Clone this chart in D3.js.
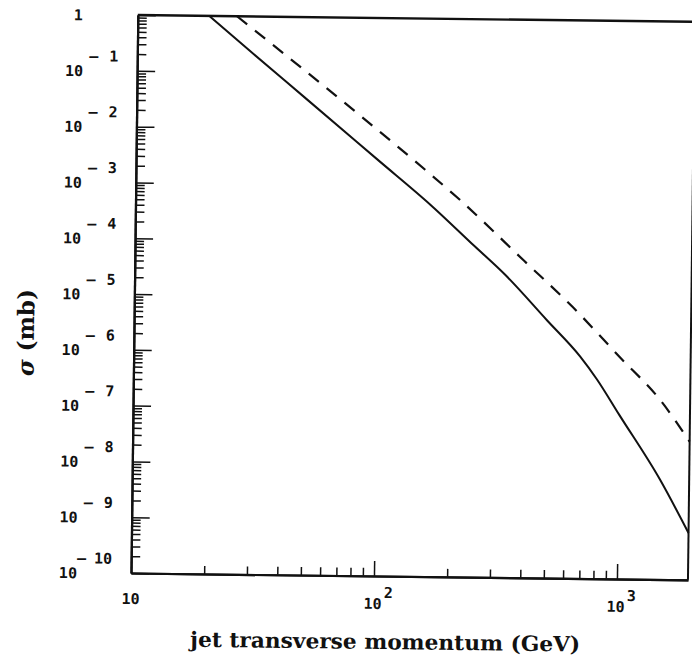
<!DOCTYPE html>
<html>
<head>
<meta charset="utf-8">
<script src="https://cdn.jsdelivr.net/npm/d3@7"></script>
<style>
  body { margin: 0; background: #fff; }
  svg { display: block; }
  .tick-num { font-family: "DejaVu Sans Mono", monospace; font-weight: bold; font-size: 15px; fill: #111; }
  .title { font-family: "DejaVu Serif", serif; font-weight: bold; fill: #111; }
</style>
</head>
<body>
<div id="canvas"></div>
<script>
// jet transverse momentum (GeV) and sigma (mb)
let solidPt = [19.7, 30, 50, 100, 163, 250, 334, 500, 687, 809, 1000, 1486, 1960];
let solidSigma = [1, 0.214, 0.0339, 2.75e-3, 4.68e-4, 8.5e-5, 2.69e-5, 4.17e-6, 9.55e-7, 3.72e-7, 8.9e-8, 6.17e-9, 6.9e-10];
let dashedPt = [25.6, 40, 84.7, 155, 216, 400, 639, 1000, 1473, 1960];
let dashedSigma = [1, 0.22, 0.0166, 1.95e-3, 5.75e-4, 4.79e-5, 7.2e-6, 9.5e-7, 1.66e-7, 3.0e-8];

// tick labels
let xExps = [1, 2, 3];
let yExps = [0, -1, -2, -3, -4, -5, -6, -7, -8, -9, -10];

let xTitle = 'jet transverse momentum (GeV)';

let W = 692, H = 664;
let pLeft = 131, pRight = 688, pTop = 15, pBottom = 573;

let x = d3.scaleLog().domain([10, 1960]).range([pLeft, pRight]);
let y = d3.scaleLog().domain([1e-10, 1]).range([pBottom, pTop]);

let svg = d3.select('#canvas').append('svg')
    .attr('width', W)
    .attr('height', H);

svg.append('rect').attr('width', W).attr('height', H).attr('fill', '#fff');

// the scan sits a little crooked, so turn the whole plot with it
let g = svg.append('g')
    .attr('transform', `rotate(0.7,${pLeft},${pBottom})`);

// minor + major tick values
let xMinor = [], yMinor = [];
[10, 100, 1000].forEach(d => {
    for (let k = 2; k <= 9; k++) if (d * k <= 1960) xMinor.push(d * k);
});
yExps.slice(1).forEach(e => {
    for (let k = 2; k <= 9; k++) yMinor.push(k * Math.pow(10, e));
});
let xMajor = xExps.map(e => Math.pow(10, e)).filter(v => v > 10);
let yMajor = yExps.map(e => Math.pow(10, e));

let styleAxis = sel => {
    sel.selectAll('path').attr('stroke', '#111').attr('stroke-width', 2.2);
    sel.selectAll('line').attr('stroke', '#111').attr('stroke-width', 1.5);
    sel.selectAll('text').remove();
};

// bottom axis, ticks point inward
g.append('g').attr('transform', `translate(0,${pBottom})`)
    .call(d3.axisBottom(x).tickValues(xMinor).tickSize(-8).tickSizeOuter(0))
    .call(styleAxis);
g.append('g').attr('transform', `translate(0,${pBottom})`)
    .call(d3.axisBottom(x).tickValues(xMajor).tickSize(-15).tickSizeOuter(0))
    .call(styleAxis);

// left axis
g.append('g').attr('transform', `translate(${pLeft},0)`)
    .call(d3.axisLeft(y).tickValues(yMinor).tickSize(-9).tickSizeOuter(0))
    .call(styleAxis);
g.append('g').attr('transform', `translate(${pLeft},0)`)
    .call(d3.axisLeft(y).tickValues(yMajor).tickSize(-18).tickSizeOuter(0))
    .call(styleAxis);

// top and right frame
g.append('line')
    .attr('x1', pLeft).attr('x2', pRight).attr('y1', pTop).attr('y2', pTop)
    .attr('stroke', '#111').attr('stroke-width', 2.4);
g.append('line')
    .attr('x1', pRight).attr('x2', pRight).attr('y1', pTop).attr('y2', pBottom)
    .attr('stroke', '#111').attr('stroke-width', 2);

// curves
let line = d3.line()
    .x(d => x(d[0]))
    .y(d => y(d[1]))
    .curve(d3.curveMonotoneX);

g.append('path')
    .datum(d3.zip(solidPt, solidSigma))
    .attr('d', line)
    .attr('fill', 'none')
    .attr('stroke', '#111')
    .attr('stroke-width', 2);

g.append('path')
    .datum(d3.zip(dashedPt, dashedSigma))
    .attr('d', line)
    .attr('fill', 'none')
    .attr('stroke', '#111')
    .attr('stroke-width', 2.2)
    .attr('stroke-dasharray', '13,10');

// y tick labels: 1, 10^-1 ... 10^-10
yExps.forEach(e => {
    let yy = y(Math.pow(10, e));
    if (e === 0) {
        g.append('text').attr('class', 'tick-num')
            .attr('x', 76).attr('y', yy + 6)
            .attr('text-anchor', 'end').text('1');
        return;
    }
    g.append('text').attr('class', 'tick-num')
        .attr('x', 77).attr('y', yy + 6)
        .attr('text-anchor', 'end').text('10');
    g.append('text').attr('class', 'tick-num')
        .attr('x', e === -10 ? 77 : 83).attr('y', yy - 9)
        .text('–');
    g.append('text').attr('class', 'tick-num')
        .attr('x', 112).attr('y', yy - 9)
        .attr('text-anchor', 'end').text(String(-e));
});

// x tick labels: 10, 10^2, 10^3
xExps.forEach(e => {
    let xx = x(Math.pow(10, e));
    if (e === 1) {
        g.append('text').attr('class', 'tick-num')
            .attr('x', xx).attr('y', 604)
            .attr('text-anchor', 'middle').text('10');
        return;
    }
    g.append('text').attr('class', 'tick-num')
        .attr('x', xx + 8).attr('y', 606)
        .attr('text-anchor', 'end').text('10');
    g.append('text').attr('class', 'tick-num')
        .attr('x', xx + 10).attr('y', 595)
        .text(String(e));
});

// axis titles
g.append('text').attr('class', 'title')
    .attr('x', 386).attr('y', 646)
    .attr('text-anchor', 'middle')
    .attr('font-size', 21)
    .attr('textLength', 390)
    .attr('lengthAdjust', 'spacingAndGlyphs')
    .text(xTitle);

let yt = g.append('text').attr('class', 'title')
    .attr('transform', 'translate(31,334) rotate(-90)')
    .attr('text-anchor', 'middle')
    .attr('font-size', 23);
yt.append('tspan').attr('font-style', 'italic').text('σ');
yt.append('tspan').text(' (mb)');
</script>
</body>
</html>
